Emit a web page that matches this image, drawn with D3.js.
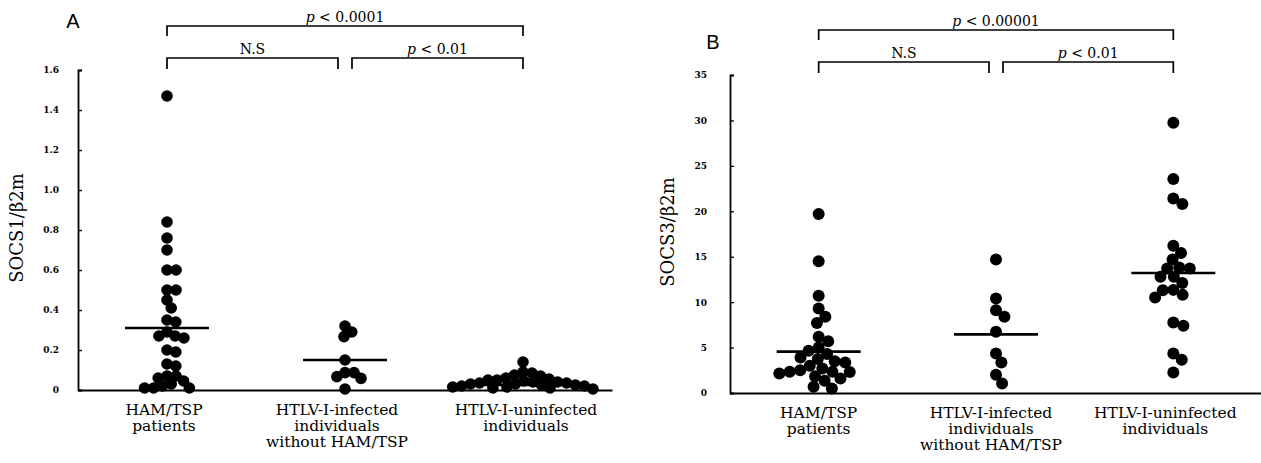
<!DOCTYPE html>
<html>
<head>
<meta charset="utf-8">
<script src="https://cdn.jsdelivr.net/npm/d3@7"></script>
<style>
  body { margin: 0; background: #fff; }
  svg { display: block; }
</style>
</head>
<body>
<div class="visHolder"></div>
<script>
// group names, one array of lines per group
let groupLabels = [
  ['HAM/TSP', 'patients'],
  ['HTLV-I-infected', 'individuals', 'without HAM/TSP'],
  ['HTLV-I-uninfected', 'individuals']
];

// panel A : SOCS1/b2m
let socs1Ham = [1.47, 0.84, 0.76, 0.70, 0.60, 0.60, 0.50, 0.50, 0.45, 0.41, 0.35, 0.34, 0.29,
  0.27, 0.26, 0.27, 0.20, 0.19, 0.13, 0.12, 0.07, 0.07, 0.06, 0.045, 0.03, 0.01, 0.01, 0.01, 0.02];
let socs1Carrier = [0.32, 0.29, 0.267, 0.15, 0.087, 0.087, 0.067, 0.058, 0.005];
let socs1Normal = [0.14, 0.09, 0.085, 0.075, 0.07, 0.06, 0.055, 0.05, 0.05, 0.045, 0.04, 0.04,
  0.035, 0.035, 0.03, 0.03, 0.025, 0.025, 0.02, 0.02, 0.015, 0.015, 0.01, 0.01, 0.005];
let socs1Medians = [0.31, 0.15, 0.025];
let socs1Ticks = [0, 0.2, 0.4, 0.6, 0.8, 1.0, 1.2, 1.4, 1.6];

// panel B : SOCS3/b2m
let socs3Ham = [19.7, 14.5, 10.7, 9.3, 8.4, 7.7, 6.2, 5.7, 5.0, 4.65, 4.3, 3.75, 3.9, 3.35, 3.5,
  3.0, 2.7, 2.35, 2.35, 2.3, 2.15, 2.5, 1.85, 1.6, 1.35, 0.5, 0.7];
let socs3Carrier = [14.7, 10.4, 9.1, 8.4, 6.75, 4.35, 3.35, 2.0, 1.05];
let socs3Normal = [29.75, 23.55, 21.4, 20.8, 16.2, 15.4, 14.7, 13.8, 13.7, 13.7, 12.8, 12.8,
  12.1, 11.3, 11.35, 10.8, 10.5, 7.75, 7.4, 4.35, 3.65, 2.25];
let socs3Medians = [4.55, 6.45, 13.2];
let socs3Ticks = [0, 5, 10, 15, 20, 25, 30, 35];

// comparison labels: [left pair, right pair, outer pair]
let socs1Stats = [['', 'N.S'], ['p', ' < 0.01'], ['p', ' < 0.0001']];
let socs3Stats = [['', 'N.S'], ['p', ' < 0.01'], ['p', ' < 0.00001']];

let svg = d3.select('.visHolder')
  .append('svg')
  .attr('width', 1261)
  .attr('height', 463);

// places dots side by side so they dont sit on top of each other
function swarm(values, y, r) {
  let order = values.map(function (v, i) { return i; })
    .sort(function (a, b) { return values[b] - values[a]; });
  let placed = [];
  let dx = [];
  order.forEach(function (i) {
    let yi = y(values[i]);
    let cands = [0];
    placed.forEach(function (p) {
      let dy = Math.abs(p.y - yi);
      if (dy < 2 * r) {
        let off = Math.sqrt(4 * r * r - dy * dy);
        cands.push(p.x + off, p.x - off);
      }
    });
    cands.sort(function (a, b) { return Math.abs(a) - Math.abs(b); });
    let x = cands.find(function (c) {
      return placed.every(function (p) {
        return (p.x - c) * (p.x - c) + (p.y - yi) * (p.y - yi) >= 4 * r * r - 0.01;
      });
    });
    placed.push({ x: x, y: yi });
    dx[i] = x;
  });
  return dx;
}

function statText(g, x, y, parts) {
  let t = g.append('text')
    .attr('x', x)
    .attr('y', y)
    .attr('text-anchor', 'middle')
    .style('font-family', 'DejaVu Serif')
    .style('font-size', '14px');
  t.append('tspan').style('font-style', 'italic').text(parts[0]);
  t.append('tspan').text(parts[1]);
}

function bracket(g, x1, x2, y, drop) {
  g.append('path')
    .attr('d', 'M' + x1 + ',' + (y + drop) + 'V' + y + 'H' + x2 + 'V' + (y + drop))
    .attr('fill', 'none')
    .attr('stroke', '#000')
    .attr('stroke-width', 1.7);
}

function drawPanel(p) {
  let g = svg.append('g');

  let y = d3.scaleLinear().domain([0, p.max]).range([p.bottom, p.top]);
  let x = d3.scaleBand().domain([0, 1, 2]).range([p.left, p.right]);
  let cx = function (i) { return x(i) + x.bandwidth() / 2; };

  // y axis
  let yAxis = d3.axisLeft(y)
    .tickValues(p.ticks)
    .tickSizeInner(-4)
    .tickSizeOuter(-4)
    .tickPadding(p.pad)
    .tickFormat(p.fmt);
  let ya = g.append('g')
    .attr('transform', 'translate(' + p.left + ',0)')
    .call(yAxis);
  ya.select('.domain').attr('stroke-width', 1.8);
  ya.selectAll('.tick line').attr('stroke-width', 1.3);
  ya.selectAll('text')
    .style('font-family', 'DejaVu Serif')
    .style('font-weight', 'bold')
    .style('font-size', '9px');

  // x axis, plain line
  let xAxis = d3.axisBottom(x).tickSize(0).tickFormat('');
  let xa = g.append('g')
    .attr('transform', 'translate(0,' + p.bottom + ')')
    .call(xAxis);
  xa.select('.domain').attr('stroke-width', 2);

  // group labels
  groupLabels.forEach(function (lines, i) {
    let t = g.append('text')
      .attr('text-anchor', 'middle')
      .attr('y', p.bottom + 25)
      .style('font-family', 'DejaVu Serif')
      .style('font-size', '15.5px');
    lines.forEach(function (s, k) {
      t.append('tspan')
        .attr('x', cx(i) + p.labelShift[i])
        .attr('dy', k === 0 ? 0 : 16)
        .text(s);
    });
  });

  // y title
  g.append('text')
    .attr('transform', 'translate(' + p.titleX + ',' + p.titleY + ') rotate(-90)')
    .attr('text-anchor', 'middle')
    .style('font-family', 'DejaVu Serif')
    .style('font-size', '18px')
    .text(p.title);

  // panel letter
  g.append('text')
    .attr('x', p.letterX)
    .attr('y', p.letterY)
    .attr('text-anchor', 'middle')
    .style('font-family', 'Liberation Sans')
    .style('font-size', '20px')
    .text(p.letter);

  // dots
  p.groups.forEach(function (vals, i) {
    let dx = swarm(vals, y, p.r * p.pack);
    g.selectAll('.dot' + i)
      .data(vals)
      .enter()
      .append('circle')
      .attr('cx', function (d, k) { return cx(i) + dx[k]; })
      .attr('cy', function (d) { return y(d); })
      .attr('r', p.r)
      .attr('fill', '#000');
  });

  // median lines
  g.selectAll('.median')
    .data(p.medians)
    .enter()
    .append('line')
    .attr('x1', function (d, i) { return cx(i) - 42; })
    .attr('x2', function (d, i) { return cx(i) + 42; })
    .attr('y1', function (d) { return y(d); })
    .attr('y2', function (d) { return y(d); })
    .attr('stroke', '#000')
    .attr('stroke-width', 2.6);

  // brackets and p values
  bracket(g, cx(0), cx(1) - 7, p.lowY, 11);
  bracket(g, cx(1) + 7, cx(2), p.lowY, 11);
  bracket(g, cx(0), cx(2), p.topY, 10);
  statText(g, (cx(0) + cx(1) - 7) / 2, p.lowY - 4, p.stats[0]);
  statText(g, (cx(1) + 7 + cx(2)) / 2, p.lowY - 4, p.stats[1]);
  statText(g, (cx(0) + cx(2)) / 2, p.topY - 4, p.stats[2]);
}

drawPanel({
  left: 78, right: 612, top: 70, bottom: 390,
  max: 1.6, ticks: socs1Ticks, pad: 19,
  fmt: function (d) { return d === 0 ? '0' : d3.format('.1f')(d); },
  title: 'SOCS1/β2m', titleX: 23, titleY: 228,
  letter: 'A', letterX: 73, letterY: 28,
  groups: [socs1Ham, socs1Carrier, socs1Normal],
  medians: socs1Medians, stats: socs1Stats,
  labelShift: [-3, -8, 3],
  topY: 26, lowY: 58, r: 5.8, pack: 0.78
});

drawPanel({
  left: 730, right: 1262, top: 75, bottom: 393,
  max: 35, ticks: socs3Ticks, pad: 23,
  fmt: d3.format('d'),
  title: 'SOCS3/β2m', titleX: 674, titleY: 232,
  letter: 'B', letterX: 713, letterY: 49,
  groups: [socs3Ham, socs3Carrier, socs3Normal],
  medians: socs3Medians, stats: socs3Stats,
  labelShift: [0, -5, -8],
  topY: 30, lowY: 62, r: 6, pack: 0.88
});
</script>
</body>
</html>
